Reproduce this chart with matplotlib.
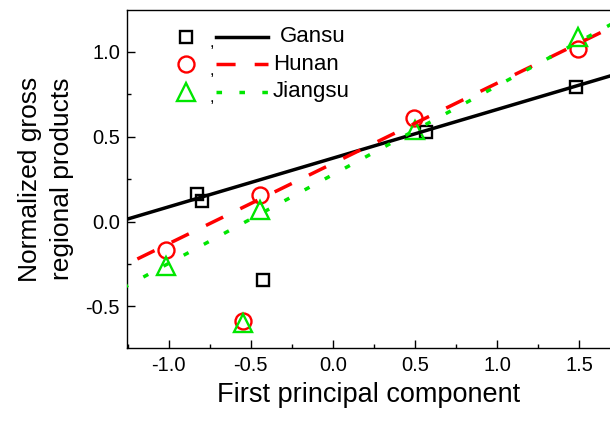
import matplotlib
matplotlib.use("Agg")
import matplotlib.pyplot as plt
from matplotlib.ticker import MultipleLocator
import numpy

plt.rcParams['font.family'] = ['Liberation Sans', 'DejaVu Sans']
plt.rcParams['axes.unicode_minus'] = False

#####################################################################
# data
provinces = ["Gansu", "Hunan", "Jiangsu"]

gansu_pc1 = [-0.830, -0.796, -0.428, 0.566, 1.478]
gansu_grp = [0.161, 0.122, -0.344, 0.530, 0.792]

hunan_pc1 = [-1.019, -0.445, -0.546, 0.495, 1.494]
hunan_grp = [-0.167, 0.157, -0.583, 0.613, 1.016]

jiangsu_pc1 = [-1.019, -0.445, -0.546, 0.501, 1.494]
jiangsu_grp = [-0.261, 0.069, -0.599, 0.540, 1.087]

# fitted lines (slope, intercept)
fit_slope = [0.287, 0.473, 0.523]
fit_intercept = [0.374, 0.343, 0.277]

######################################################################
colors = ["black", "#ff0000", "#00e600"]
markers = ["s", "o", "^"]
msizes = [9, 11.5, 13]
line_kw = [dict(linestyle="-"),
           dict(dashes=(5.5, 5.5)),
           dict(dashes=(1.6, 5.0))]

xs = [gansu_pc1, hunan_pc1, jiangsu_pc1]
ys = [gansu_grp, hunan_grp, jiangsu_grp]

fig = plt.figure(figsize=(6.10, 4.21), dpi=100)
ax = fig.add_axes([0.2082, 0.1734, 0.7918, 0.8028])

xlim = (-1.254, 1.687)
ylim = (-0.745, 1.247)
xline = numpy.array([-1.4, 1.8])

for i in range(3):
    ax.plot(xs[i], ys[i], linestyle="none", marker=markers[i], ms=msizes[i],
            mfc="none", mec=colors[i], mew=1.7, zorder=2)
    ax.plot(xline, fit_slope[i] * xline + fit_intercept[i], color=colors[i],
            lw=2.5, zorder=3, **line_kw[i])

ax.set_xlim(*xlim)
ax.set_ylim(*ylim)

ax.xaxis.set_major_locator(MultipleLocator(0.5))
ax.xaxis.set_minor_locator(MultipleLocator(0.25))
ax.yaxis.set_major_locator(MultipleLocator(0.5))
ax.yaxis.set_minor_locator(MultipleLocator(0.25))
ax.xaxis.set_major_formatter(matplotlib.ticker.FormatStrFormatter("%.1f"))
ax.yaxis.set_major_formatter(matplotlib.ticker.FormatStrFormatter("%.1f"))
ax.tick_params(which="both", direction="in", top=False, right=False, width=1)
ax.tick_params(which="major", length=5.5, labelsize=14.5)
ax.tick_params(axis="x", which="major", pad=6)
ax.tick_params(axis="y", which="major", pad=5)
ax.tick_params(which="minor", length=3)
ax.spines["right"].set_visible(False)
for s in ["left", "bottom", "top"]:
    ax.spines[s].set_linewidth(1)

ax.set_xlabel("First principal component", fontsize=19.5, labelpad=5)
ax.set_ylabel("Normalized gross\nregional products", fontsize=19, labelpad=8,
              linespacing=1.45)

#--------------------------------
# Origin-style legend: marker , line  name
rows_y = [0.921, 0.840, 0.758]
text_x = [0.317, 0.302, 0.302]
for i in range(3):
    yy = rows_y[i]
    ax.plot([0.122], [yy], transform=ax.transAxes, linestyle="none",
            marker=markers[i], ms=msizes[i], mfc="none", mec=colors[i],
            mew=1.7, clip_on=False)
    ax.text(0.176, yy - 0.018, ",", transform=ax.transAxes, fontsize=12,
            ha="center", va="center")
    ax.plot([0.184, 0.292], [yy, yy], transform=ax.transAxes, color=colors[i],
            lw=2.5, **line_kw[i])
    ax.text(text_x[i], yy, provinces[i], transform=ax.transAxes,
            fontsize=16, ha="left", va="center")

plt.savefig("out.png", dpi=100)
